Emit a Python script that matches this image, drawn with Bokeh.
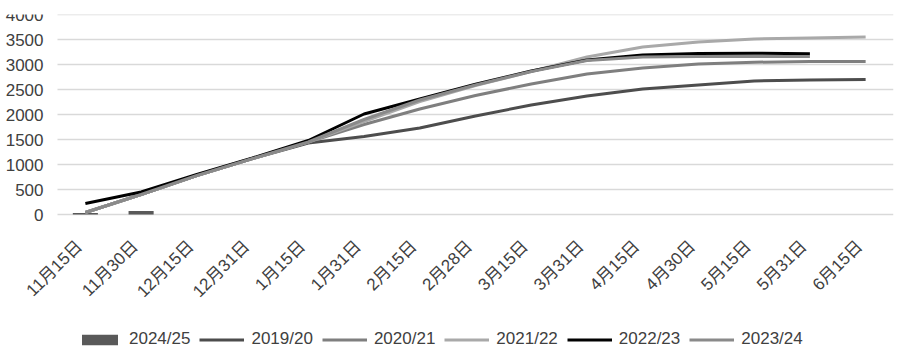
import math
from bokeh.plotting import figure
from bokeh.models import Range1d, Legend, LegendItem, ColumnDataSource
from bokeh.core.properties import value
from bokeh.embed import file_html
from bokeh.resources import INLINE

categories = ["11月15日", "11月30日", "12月15日", "12月31日", "1月15日", "1月31日",
              "2月15日", "2月28日", "3月15日", "3月31日", "4月15日", "4月30日",
              "5月15日", "5月31日", "6月15日"]

y_ticks = [0, 500, 1000, 1500, 2000, 2500, 3000, 3500, 4000]
y_tick_labels = ["0", "500", "1000", "1500", "2000", "2500", "3000", "3500", "4000"]

bar_2024_25 = [30, 70]

s_2019_20 = [40, 400, 780, 1120, 1430, 1560, 1730, 1970, 2190, 2370, 2510, 2590, 2670, 2690, 2700]
s_2020_21 = [40, 400, 780, 1120, 1450, 1800, 2110, 2380, 2610, 2810, 2930, 3010, 3045, 3060, 3060]
s_2021_22 = [40, 400, 780, 1120, 1450, 1860, 2260, 2580, 2860, 3150, 3350, 3450, 3510, 3530, 3550]
s_2022_23 = [220, 450, 800, 1130, 1480, 2010, 2310, 2605, 2870, 3090, 3190, 3220, 3225, 3215]
s_2023_24 = [40, 400, 780, 1120, 1450, 1900, 2290, 2590, 2860, 3080, 3150, 3160, 3160, 3160]

series = [
    ("2019/20", s_2019_20, "#4d4d4d"),
    ("2020/21", s_2020_21, "#7f7f7f"),
    ("2021/22", s_2021_22, "#a9a9a9"),
    ("2022/23", s_2022_23, "#000000"),
    ("2023/24", s_2023_24, "#8a8a8a"),
]

FONT = "Liberation Sans, Noto Sans CJK SC"
TXT = "#404040"

W, H = 900, 356
TOP, RIGHT = 14, 7
PLOT_LEFT = 57                      # where the gridlines start
Y_MAX = y_ticks[-1]
PLOT_PX = 200                       # pixels used by 0..4000
UNITS_PER_PX = Y_MAX / PLOT_PX
Y_MIN = -(H - TOP - PLOT_PX) * UNITS_PER_PX

n = len(categories)
idx = list(range(n))
px_per_cat = (W - RIGHT - PLOT_LEFT) / n
X_START = -0.5 - PLOT_LEFT / px_per_cat
X_END = n - 0.5

p = figure(width=W, height=H, output_backend="svg", toolbar_location=None,
           x_range=Range1d(X_START, X_END), y_range=Range1d(Y_MIN, Y_MAX),
           x_axis_location=None, y_axis_location=None,
           min_border_left=0, min_border_right=RIGHT, min_border_top=TOP,
           min_border_bottom=0)
p.outline_line_color = None
p.background_fill_color = "white"
p.border_fill_color = "white"
p.xgrid.grid_line_color = None
p.ygrid.grid_line_color = None

# horizontal gridlines
p.segment(x0=[-0.5] * len(y_ticks), x1=[n - 0.5] * len(y_ticks), y0=y_ticks, y1=y_ticks,
          line_color="#d9d9d9", line_width=1.5)

# y tick labels
ylab_src = ColumnDataSource(dict(x=[-0.5] * len(y_ticks), y=y_ticks, t=y_tick_labels))
p.text(x="x", y="y", text="t", source=ylab_src, x_offset=-14,
       text_align="right", text_baseline="middle",
       text_font=value(FONT), text_font_size=value("17px"), text_color=TXT)

# category labels, rotated 45 degrees, under the zero line
label_y = -29 * UNITS_PER_PX
lab_src = ColumnDataSource(dict(x=idx, y=[label_y] * n, t=categories))
p.text(x="x", y="y", text="t", source=lab_src, angle=math.pi / 4,
       text_align="right", text_baseline="middle", x_offset=-6,
       text_font=value(FONT), text_font_size=value("17px"), text_color=TXT)

bar_src = ColumnDataSource(dict(x=idx[:len(bar_2024_25)], y=bar_2024_25))
bars = p.vbar(x="x", top="y", width=0.45, source=bar_src, fill_color="#595959",
              line_color=None)

items = [LegendItem(label="2024/25", renderers=[bars])]
for name, vals, color in series:
    src = ColumnDataSource(dict(x=idx[:len(vals)], y=vals))
    r = p.line(x="x", y="y", source=src, line_color=color, line_width=3)
    items.append(LegendItem(label=name, renderers=[r]))

legend = Legend(items=items, orientation="horizontal", location=(77, 7),
                glyph_width=45, glyph_height=13, label_standoff=7, spacing=9,
                label_text_font=FONT, label_text_font_size="17px",
                label_text_color=TXT, border_line_color=None,
                background_fill_alpha=0, padding=0, margin=0)
p.add_layout(legend)

open("out.html", "w").write(file_html(p, INLINE))
